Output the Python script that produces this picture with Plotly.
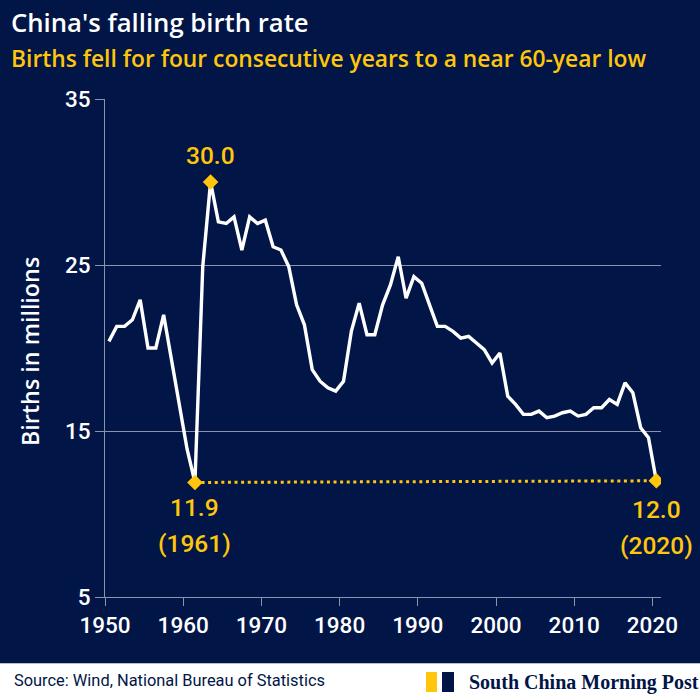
import plotly.graph_objects as go

# ---- data (births in millions) ----
years = list(range(1950, 2021))
births = [
    20.4, 21.3, 21.3, 21.7, 22.9, 20.0, 20.0, 22.0, 19.3, 16.6,   # 1950-1959
    13.9, 11.9, 24.9, 30.0, 27.6, 27.5, 27.9, 25.9, 27.9, 27.5,   # 1960-1969
    27.7, 26.1, 25.9, 24.9, 22.6, 21.4, 18.7, 18.0, 17.6, 17.4,   # 1970-1979
    18.0, 21.0, 22.7, 20.8, 20.8, 22.6, 23.8, 25.5, 23.0, 24.3,   # 1980-1989
    23.9, 22.6, 21.3, 21.3, 21.0, 20.6, 20.7, 20.3, 19.9, 19.1,   # 1990-1999
    19.7, 17.1, 16.6, 16.0, 16.0, 16.2, 15.8, 15.9, 16.1, 16.2,   # 2000-2009
    15.9, 16.0, 16.4, 16.4, 16.9, 16.6, 17.9, 17.3, 15.2, 14.6,   # 2010-2019
    12.0,                                                          # 2020
]
peak_year, peak_val = 1963, 30.0
low_year, low_val = 1961, 11.9
last_year, last_val = 2020, 12.0
decade_labels = ["1950", "1960", "1970", "1980", "1990", "2000", "2010", "2020"]
y_ticks = [5, 15, 25, 35]

NAVY = "#011547"
YELLOW = "#FFC60B"
GRID = "#8C92A8"
FONT = "Roboto"
HFONT = "Open Sans"

W, H = 700, 700
L, R, T, B = 105, 39, 99, 103
PW, PH = W - L - R, H - T - B

def xp(px):
    return (px - L) / PW

def yp(py):
    return (H - B - py) / PH

fig = go.Figure()

fig.add_trace(go.Scatter(
    x=[low_year, last_year], y=[low_val, last_val], mode="lines",
    line=dict(color=YELLOW, width=3, dash="3px,3.6px"), hoverinfo="skip"))
fig.add_trace(go.Scatter(
    x=years, y=births, mode="lines",
    line=dict(color="white", width=3.4), hoverinfo="skip"))
fig.add_trace(go.Scatter(
    x=[peak_year, low_year, last_year], y=[peak_val, low_val, last_val],
    mode="markers", marker=dict(symbol="diamond", size=12, color=YELLOW),
    hoverinfo="skip"))

ann = []
def text(px, py, s, size, color, xanchor="left", weight=400, family=FONT, angle=0):
    ann.append(dict(x=xp(px), y=yp(py), xref="paper", yref="paper", text=s,
                    showarrow=False, xanchor=xanchor, yanchor="middle",
                    textangle=angle,
                    font=dict(family=family, size=size, color=color, weight=weight)))

text(9, 22, "China's falling birth rate", 25.7, "white", weight=600, family=HFONT)
text(9, 58, "Births fell for four consecutive years to a near 60-year low", 22.8, YELLOW, weight=600, family=HFONT)
text(30, 352, "Births in millions", 23.3, "white", xanchor="center", weight=600, family=HFONT, angle=-90)

# data labels
def data_label(year, val, dy, s):
    ann.append(dict(x=year, y=val, xref="x", yref="y", text=s, showarrow=False,
                    xanchor="center", yanchor="middle", yshift=dy,
                    font=dict(family=FONT, size=24.5, color=YELLOW, weight=500)))
data_label(peak_year, peak_val, 27, f"{peak_val:.1f}")
data_label(low_year, low_val, -25, f"{low_val:.1f}")
data_label(low_year, low_val, -61, f"({low_year})")
data_label(last_year, last_val, -29, f"{last_val:.1f}")
data_label(last_year, last_val, -65, f"({last_year})")

# footer
text(12, 681, "Source: Wind, National Bureau of Statistics", 16.4, NAVY)
text(467, 682, "<b>South China Morning Post</b>", 20, NAVY, family="Liberation Serif")

shapes = [
    dict(type="rect", xref="paper", yref="paper", x0=xp(0), x1=xp(W), y0=yp(663), y1=yp(H),
         fillcolor="white", line=dict(width=0), layer="above"),
    dict(type="line", xref="paper", yref="paper", x0=xp(0), x1=xp(W), y0=yp(663.5), y1=yp(663.5),
         line=dict(color="#B8BCC8", width=1), layer="above"),
    dict(type="rect", xref="paper", yref="paper", x0=xp(426), x1=xp(437), y0=yp(672), y1=yp(692),
         fillcolor=YELLOW, line=dict(width=0), layer="above"),
    dict(type="rect", xref="paper", yref="paper", x0=xp(442), x1=xp(454), y0=yp(672), y1=yp(692),
         fillcolor=NAVY, line=dict(width=0), layer="above"),
]

fig.update_layout(
    width=W, height=H, autosize=False,
    margin=dict(l=L, r=R, t=T, b=B, pad=0),
    paper_bgcolor=NAVY, plot_bgcolor=NAVY,
    showlegend=False,
    annotations=ann, shapes=shapes,
    xaxis=dict(
        range=[years[0] - 0.5, years[-1] + 0.6],
        tickmode="array",
        tickvals=[int(s) - 0.5 for s in decade_labels],
        ticktext=decade_labels,
        showgrid=False, zeroline=False,
        showline=True, linecolor=GRID, linewidth=1,
        ticks="outside", ticklen=8, tickcolor=GRID, tickwidth=1,
        tickfont=dict(family=FONT, size=22.5, color="white", weight=500),
        fixedrange=True,
    ),
    yaxis=dict(
        range=[5, 35],
        tickmode="array", tickvals=y_ticks,
        showgrid=True, gridcolor=GRID, gridwidth=1, zeroline=False,
        showline=True, linecolor=GRID, linewidth=1,
        ticks="outside", ticklen=9, tickcolor=GRID, tickwidth=1,
        tickfont=dict(family=FONT, size=22.5, color="white", weight=500),
        fixedrange=True,
    ),
)

fig.write_html("out.html", config={"displayModeBar": False},
               post_script="document.body.style.margin='0';document.body.style.overflow='hidden';")
